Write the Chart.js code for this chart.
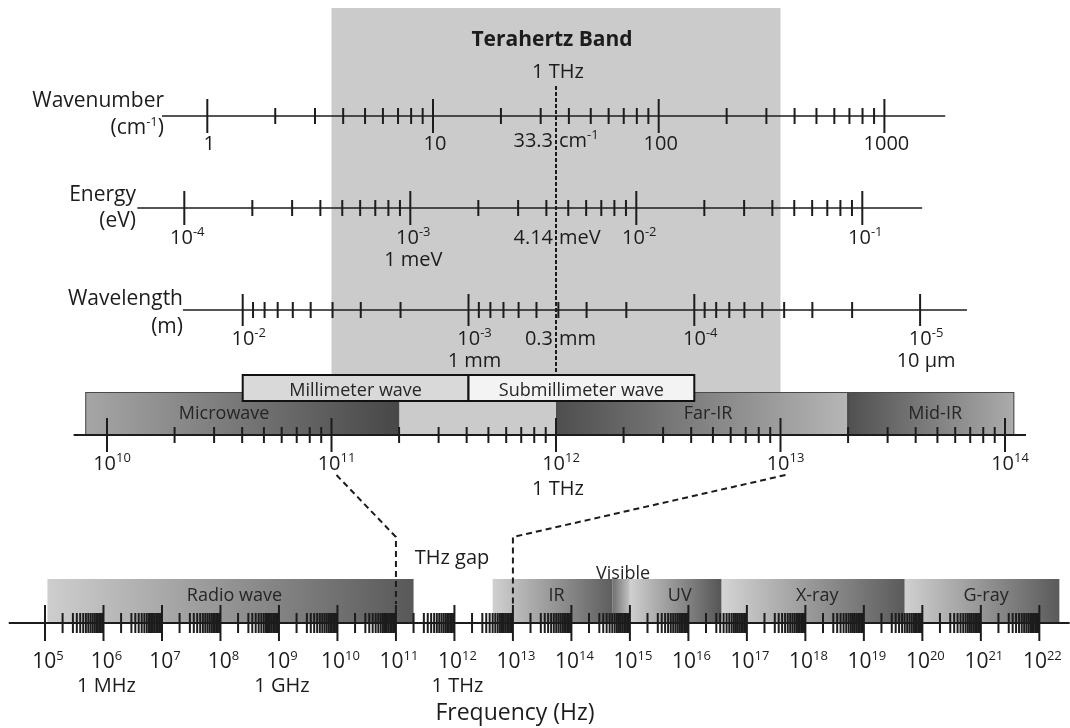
<!DOCTYPE html>
<html>
<head>
<meta charset="utf-8">
<script src="https://cdn.jsdelivr.net/npm/chart.js@4.4.1/dist/chart.umd.min.js"></script>
<style>
  html, body { margin: 0; padding: 0; background: #fff; }
  canvas { display: block; }
</style>
</head>
<body>
<canvas id="spectrum" width="1070" height="728"></canvas>
<script>
// Terahertz band on the electromagnetic spectrum

// ---- data ----
const wavenumberDecades = [1, 10, 100, 1000];              // cm^-1
const energyDecades = [1e-4, 1e-3, 1e-2, 1e-1];            // eV
const wavelengthDecades = [1e-2, 1e-3, 1e-4, 1e-5];        // m
const thzFreqDecades = [1e10, 1e11, 1e12, 1e13, 1e14];     // Hz
const fullFreqDecades = [1e5, 1e6, 1e7, 1e8, 1e9, 1e10, 1e11, 1e12, 1e13,
                         1e14, 1e15, 1e16, 1e17, 1e18, 1e19, 1e20, 1e21, 1e22];
const minorSteps = [2, 3, 4, 5, 6, 7, 8, 9];
const denseSteps = [2, 3, 3.5, 4, 4.5, 5, 5.5, 6, 6.5, 7, 7.5, 8, 8.5, 9, 9.5];

// axis line extents
const wavenumberSpan = [0.63, 1860];
const energySpan = [6.2e-5, 0.184];
const wavelengthSpan = [0.0184, 6.2e-6];
const thzFreqSpan = [7.1e9, 1.24e14];
const fullFreqSpan = [2.4e4, 3.3e22];

// tick notes
const energyNotes = [null, '1 meV', null, null];
const wavelengthNotes = [null, '1 mm', null, '10 \u00b5m'];
const thzFreqNotes = [null, null, '1 THz', null, null];
const fullFreqNotes = { 1e6: '1 MHz', 1e9: '1 GHz', 1e12: '1 THz' };

// values of 1 THz on each row
const oneThz = 1e12;
const oneThzWavenumber = ['33.3', 'cm', '-1'];
const oneThzEnergy = ['4.14', 'meV'];
const oneThzWavelength = ['0.3', 'mm'];

// bands
const thzBand = [1e11, 1e13];
const topBandNames = ['Microwave', 'Far-IR', 'Mid-IR'];
const topBandRanges = [[8e9, 2e11], [1e12, 2e13], [2e13, 1.1e14]];
const mmBoxNames = ['Millimeter wave', 'Submillimeter wave'];
const mmBoxRanges = [[1e-2, 1e-3], [1e-3, 1e-4]];           // wavelength, m
const fullBandNames = ['Radio wave', 'IR', 'Visible', 'UV', 'X-ray', 'G-ray'];
const fullBandRanges = [[1.1e5, 2e11], [4.5e12, 5e14], [5e14, 1e15],
                        [1e15, 3.7e16], [3.7e16, 5e19], [5e19, 2.2e22]];

// ---- layout and style ----
const W = 1070;
const FONT = '"Open Sans", Lato, sans-serif';
const INK = '#1c1c1c';
const ROW = { wavenumber: 116, energy: 208, wavelength: 310, thz: 435, full: 623 };

const topBandShades = [['#a6a6a6', '#474747'], ['#4e4e4e', '#b6b6b6'], ['#505050', '#acacac']];
const topBandNudge = [-18, 6, 4];
const mmBoxFills = ['#d9d9d9', '#f3f3f3'];
const fullBandShades = [['#cecece', '#585858'], ['#d0d0d0', '#5e5e5e'], ['#6e6e6e', '#c4c4c4'],
                        ['#d0d0d0', '#555555'], ['#d4d4d4', '#5a5a5a'], ['#d0d0d0', '#5a5a5a']];

function logBounds(refValue, refPx, pxPerDecade, reverse) {
  const lr = Math.log10(refValue);
  if (reverse) {
    return { max: 10 ** (lr + refPx / pxPerDecade), min: 10 ** (lr - (W - refPx) / pxPerDecade), reverse: true };
  }
  return { min: 10 ** (lr - refPx / pxPerDecade), max: 10 ** (lr + (W - refPx) / pxPerDecade) };
}

function logScale(bounds) {
  return Object.assign({ type: 'logarithmic', position: 'bottom', display: false, bounds: 'data' }, bounds);
}

function rowDatasets(axisId, y, decades, steps, span, majorLen, minorLen, lineWidth) {
  const sorted = [...decades].sort((a, b) => a - b);
  const minors = [];
  for (let i = 0; i < sorted.length - 1; i++) {
    steps.forEach(s => minors.push(sorted[i] * s));
  }
  const common = { xAxisID: axisId, yAxisID: 'y', clip: false, borderColor: INK, pointBorderColor: INK };
  return [
    Object.assign({}, common, {
      data: span.map(v => ({ x: v, y })),
      showLine: true, borderWidth: lineWidth, pointRadius: 0
    }),
    Object.assign({}, common, {
      data: decades.map(v => ({ x: v, y })),
      pointStyle: 'line', pointRotation: 90, pointRadius: majorLen, pointBorderWidth: 2
    }),
    Object.assign({}, common, {
      data: minors.map(v => ({ x: v, y })),
      pointStyle: 'line', pointRotation: 90, pointRadius: minorLen, pointBorderWidth: 2
    })
  ];
}

// text made of runs, some raised as superscripts
function drawRuns(ctx, runs, x, y, size, align, bold) {
  const supSize = Math.round(size * 0.64);
  const fontOf = r => (bold ? 'bold ' : '') + (r.sup ? supSize : size) + 'px ' + FONT;
  let total = 0;
  const widths = runs.map(r => {
    ctx.font = fontOf(r);
    const w = ctx.measureText(r.t).width;
    total += w;
    return w;
  });
  let cx = align === 'left' ? x : align === 'right' ? x - total : x - total / 2;
  ctx.textAlign = 'left';
  ctx.textBaseline = 'alphabetic';
  runs.forEach((r, i) => {
    ctx.font = fontOf(r);
    ctx.fillText(r.t, cx, r.sup ? y - size * 0.4 : y);
    cx += widths[i];
  });
}

function powerRuns(v) {
  return [{ t: '10' }, { t: String(Math.round(Math.log10(v))), sup: true }];
}

function gradientBar(ctx, scale, yScale, range, top, bottom, shades) {
  const x0 = Math.min(scale.getPixelForValue(range[0]), scale.getPixelForValue(range[1]));
  const x1 = Math.max(scale.getPixelForValue(range[0]), scale.getPixelForValue(range[1]));
  const y0 = yScale.getPixelForValue(top);
  const y1 = yScale.getPixelForValue(bottom);
  const g = ctx.createLinearGradient(x0, 0, x1, 0);
  g.addColorStop(0, shades[0]);
  g.addColorStop(1, shades[1]);
  ctx.fillStyle = g;
  ctx.fillRect(x0, y0, x1 - x0, y1 - y0);
  return [x0, y0, x1 - x0, y1 - y0];
}

const backdropPlugin = {
  id: 'backdrop',
  beforeDatasetsDraw(chart) {
    const { ctx, scales } = chart;
    const y = scales.y;
    ctx.save();

    // terahertz band
    const bx0 = scales.xThz.getPixelForValue(thzBand[0]);
    const bx1 = scales.xThz.getPixelForValue(thzBand[1]);
    ctx.fillStyle = '#cbcbcb';
    ctx.fillRect(bx0, y.getPixelForValue(8), bx1 - bx0, y.getPixelForValue(ROW.thz) - y.getPixelForValue(8));

    // microwave / far-IR / mid-IR
    topBandRanges.forEach((r, i) => {
      const box = gradientBar(ctx, scales.xThz, y, r, 392, ROW.thz, topBandShades[i]);
      ctx.strokeStyle = '#4a4a4a';
      ctx.lineWidth = 1;
      ctx.strokeRect(box[0] + 0.5, box[1] + 0.5, box[2] - 1, box[3]);
    });

    // millimeter / submillimeter boxes
    mmBoxRanges.forEach((r, i) => {
      const x0 = scales.xLambda.getPixelForValue(r[0]);
      const x1 = scales.xLambda.getPixelForValue(r[1]);
      const y0 = y.getPixelForValue(375);
      const y1 = y.getPixelForValue(401);
      ctx.fillStyle = mmBoxFills[i];
      ctx.fillRect(x0, y0, x1 - x0, y1 - y0);
      ctx.strokeStyle = '#111';
      ctx.lineWidth = 2;
      ctx.strokeRect(x0, y0, x1 - x0, y1 - y0);
    });

    // full spectrum bands
    fullBandRanges.forEach((r, i) => {
      gradientBar(ctx, scales.xFull, y, r, 579, ROW.full, fullBandShades[i]);
    });
    ctx.restore();
  }
};

const labelPlugin = {
  id: 'labels',
  afterDatasetsDraw(chart) {
    const { ctx, scales } = chart;
    const py = v => scales.y.getPixelForValue(v);
    ctx.save();
    ctx.fillStyle = INK;

    // title and 1 THz marker
    const thzX = scales.xThz.getPixelForValue(oneThz);
    drawRuns(ctx, [{ t: 'Terahertz Band' }], thzX - 4, py(46), 21, 'center', true);
    drawRuns(ctx, [{ t: '1 THz' }], thzX + 2, py(78), 20, 'center');

    // row names
    drawRuns(ctx, [{ t: 'Wavenumber' }], 164, py(107), 21, 'right');
    drawRuns(ctx, [{ t: '(cm' }, { t: '-1', sup: true }, { t: ')' }], 164, py(134), 21, 'right');
    drawRuns(ctx, [{ t: 'Energy' }], 136, py(201), 21, 'right');
    drawRuns(ctx, [{ t: '(eV)' }], 136, py(227), 21, 'right');
    drawRuns(ctx, [{ t: 'Wavelength' }], 183, py(305), 21, 'right');
    drawRuns(ctx, [{ t: '(m)' }], 183, py(333), 21, 'right');

    // wavenumber ticks
    wavenumberDecades.forEach(v => {
      drawRuns(ctx, [{ t: String(v) }], scales.xWn.getPixelForValue(v) + 2, py(150), 20, 'center');
    });
    drawRuns(ctx, [{ t: oneThzWavenumber[0] }], thzX - 3, py(147), 20, 'right');
    drawRuns(ctx, [{ t: oneThzWavenumber[1] }, { t: oneThzWavenumber[2], sup: true }], thzX + 3, py(147), 20, 'left');

    // energy ticks
    energyDecades.forEach((v, i) => {
      const x = scales.xEv.getPixelForValue(v) + 3;
      drawRuns(ctx, powerRuns(v), x, py(244), 20, 'center');
      if (energyNotes[i]) drawRuns(ctx, [{ t: energyNotes[i] }], x, py(266), 20, 'center');
    });
    drawRuns(ctx, [{ t: oneThzEnergy[0] }], thzX - 3, py(244), 20, 'right');
    drawRuns(ctx, [{ t: oneThzEnergy[1] }], thzX + 3, py(244), 20, 'left');

    // wavelength ticks
    wavelengthDecades.forEach((v, i) => {
      const x = scales.xLambda.getPixelForValue(v) + 6;
      drawRuns(ctx, powerRuns(v), x, py(345), 20, 'center');
      if (wavelengthNotes[i]) drawRuns(ctx, [{ t: wavelengthNotes[i] }], x, py(367), 20, 'center');
    });
    drawRuns(ctx, [{ t: oneThzWavelength[0] }], thzX - 3, py(345), 20, 'right');
    drawRuns(ctx, [{ t: oneThzWavelength[1] }], thzX + 3, py(345), 20, 'left');

    // band names
    ctx.fillStyle = '#262626';
    topBandRanges.forEach((r, i) => {
      const x = (scales.xThz.getPixelForValue(r[0]) + scales.xThz.getPixelForValue(r[1])) / 2;
      drawRuns(ctx, [{ t: topBandNames[i] }], x + topBandNudge[i], py(419), 18, 'center');
    });
    mmBoxRanges.forEach((r, i) => {
      const x = (scales.xLambda.getPixelForValue(r[0]) + scales.xLambda.getPixelForValue(r[1])) / 2;
      drawRuns(ctx, [{ t: mmBoxNames[i] }], x, py(396), 18, 'center');
    });
    fullBandRanges.forEach((r, i) => {
      const x = (scales.xFull.getPixelForValue(r[0]) + scales.xFull.getPixelForValue(r[1])) / 2;
      if (fullBandNames[i] === 'Visible') {
        drawRuns(ctx, [{ t: fullBandNames[i] }], x + 2, py(579), 18, 'center');
      } else {
        drawRuns(ctx, [{ t: fullBandNames[i] }], x + 4, py(601), 18, 'center');
      }
    });

    // frequency ticks (THz zoom)
    ctx.fillStyle = INK;
    thzFreqDecades.forEach((v, i) => {
      const x = scales.xThz.getPixelForValue(v) + 5;
      drawRuns(ctx, powerRuns(v), x, py(470), 20, 'center');
      if (thzFreqNotes[i]) drawRuns(ctx, [{ t: thzFreqNotes[i] }], x - 3, py(495), 20, 'center');
    });

    // frequency ticks (full spectrum)
    fullFreqDecades.forEach(v => {
      const x = scales.xFull.getPixelForValue(v) + 3;
      drawRuns(ctx, powerRuns(v), x, py(668), 21, 'center');
      if (fullFreqNotes[v]) drawRuns(ctx, [{ t: fullFreqNotes[v] }], x, py(692), 20, 'center');
    });
    drawRuns(ctx, [{ t: 'THz gap' }], 452, py(564), 20, 'center');
    drawRuns(ctx, [{ t: 'Frequency (Hz)' }], 515, py(720), 23, 'center');

    // zoom guides from the THz axis to the full spectrum
    ctx.strokeStyle = INK;
    ctx.lineWidth = 2;
    ctx.setLineDash([6, 4]);
    thzBand.forEach(v => {
      const xTop = scales.xThz.getPixelForValue(v) + 5;
      const xBottom = scales.xFull.getPixelForValue(v);
      ctx.beginPath();
      ctx.moveTo(xTop, py(475));
      ctx.lineTo(xBottom, py(537));
      ctx.lineTo(xBottom, py(604));
      ctx.stroke();
    });
    ctx.restore();
  }
};

const datasets = [
  ...rowDatasets('xWn', ROW.wavenumber, wavenumberDecades, minorSteps, wavenumberSpan, 17, 8, 1.5),
  ...rowDatasets('xEv', ROW.energy, energyDecades, minorSteps, energySpan, 17, 8, 1.5),
  ...rowDatasets('xLambda', ROW.wavelength, wavelengthDecades, minorSteps, wavelengthSpan, 16, 8, 1.5),
  ...rowDatasets('xThz', ROW.thz, thzFreqDecades, minorSteps, thzFreqSpan, 17, 8, 2),
  ...rowDatasets('xFull', ROW.full, fullFreqDecades, denseSteps, fullFreqSpan, 18, 10, 2),
  {
    // 1 THz marker line
    xAxisID: 'xThz', yAxisID: 'y', clip: false,
    data: [{ x: oneThz, y: 86 }, { x: oneThz, y: 375 }],
    showLine: true, borderColor: INK, borderWidth: 2, borderDash: [4, 2], pointRadius: 0
  }
];

new Chart(document.getElementById('spectrum'), {
  type: 'scatter',
  data: { datasets },
  options: {
    responsive: false,
    animation: false,
    events: [],
    layout: { padding: 0, autoPadding: false },
    plugins: { legend: { display: false }, tooltip: { enabled: false } },
    scales: {
      x: { display: false },
      y: { type: 'linear', min: 0, max: 728, reverse: true, display: false },
      xWn: logScale(logBounds(1, 207.3, 225.7)),
      xEv: logScale(logBounds(1e-4, 184.3, 226)),
      xLambda: logScale(logBounds(1e-2, 242.7, 225.8, true)),
      xThz: logScale(logBounds(1e10, 107, 224.5)),
      xFull: logScale(logBounds(1e5, 45, 58.49))
    }
  },
  plugins: [backdropPlugin, labelPlugin]
});
</script>
</body>
</html>
